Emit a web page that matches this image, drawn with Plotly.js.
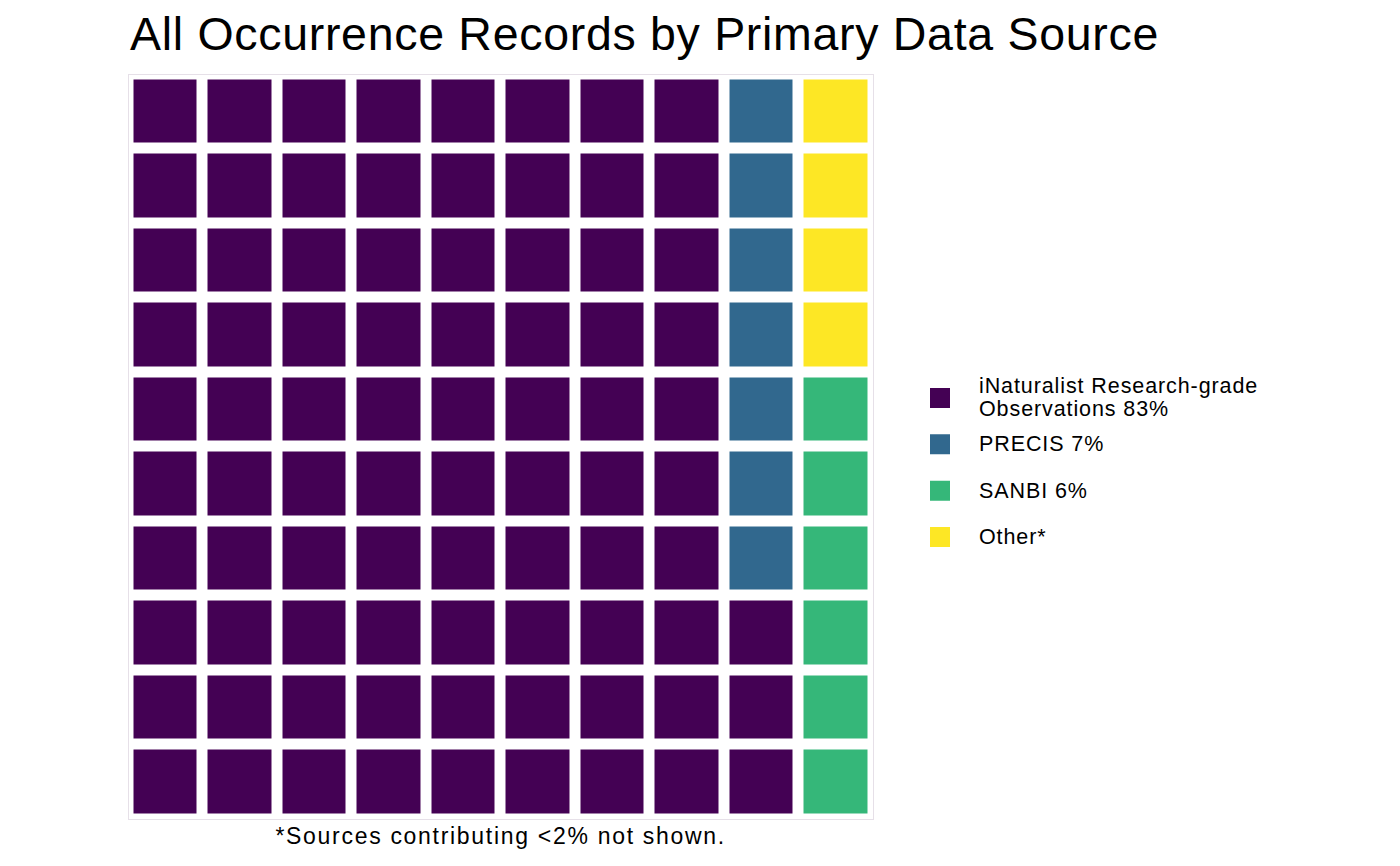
<!DOCTYPE html>
<html><head><meta charset="utf-8">
<script src="https://cdn.plot.ly/plotly-3.0.1.min.js"></script>
<style>html,body{margin:0;padding:0;background:#fff}</style>
</head><body><div id="chart" style="width:1400px;height:866px"></div>
<script>
// ---- data ----
const categories = ["iNaturalist Research-grade Observations", "PRECIS", "SANBI", "Other*"];
const legendLabels = ["iNaturalist Research-grade<br>Observations 83%", "PRECIS 7%", "SANBI 6%", "Other*"];
const tileCounts = [83, 7, 6, 4];
const colors = ["#440154", "#31688E", "#35B779", "#FDE725"];
const nRows = 10;
const nCols = 10;
const chartTitle = "All Occurrence Records by Primary Data Source";
const footnote = "*Sources contributing <2% not shown.";

// ---- build waffle grid (fill column by column, bottom to top) ----
const catIndexByTile = [];
tileCounts.forEach((c, k) => { for (let i = 0; i < c; i++) catIndexByTile.push(k); });
const xs = Array.from({length: nCols}, (_, i) => i + 1);
const ys = Array.from({length: nRows}, (_, i) => i + 1);
const z = ys.map(() => xs.map(() => null));
const hoverText = ys.map(() => xs.map(() => ""));
catIndexByTile.forEach((k, i) => {
  const col = Math.floor(i / nRows), row = i % nRows;
  z[row][col] = k;
  hoverText[row][col] = categories[k];
});
const n = colors.length;
const colorscale = [];
colors.forEach((c, k) => { colorscale.push([k / n, c]); colorscale.push([(k + 1) / n, c]); });

const W = 1400, H = 866;
const FONT = "Liberation Sans, Arial, Helvetica, sans-serif";
const LEG_SIZE = 21.5, LEG_LINE = 23;

const waffle = {
  type: "heatmap", x: xs, y: ys, z: z, text: hoverText,
  zmin: -0.5, zmax: n - 0.5, colorscale: colorscale, showscale: false,
  xgap: 11, ygap: 11, hoverinfo: "text", xaxis: "x", yaxis: "y"
};

const legendIdx = categories.map((_, k) => k);
const legendTrace = {
  type: "scatter", mode: "markers", x: legendIdx.map(() => 0), y: legendIdx,
  marker: {symbol: "square", size: 20, color: colors, line: {width: 0}},
  text: categories, hoverinfo: "text", xaxis: "x2", yaxis: "y2", showlegend: false
};

const legendAnnotations = [];
legendLabels.forEach((t, k) => {
  const lines = t.split("<br>");
  const mid = (lines.length - 1) / 2;
  lines.forEach((ln, j) => {
    legendAnnotations.push({
      text: ln, xref: "x2", yref: "y2", x: 0, y: k, xanchor: "left", yanchor: "middle",
      xshift: 37, yshift: (mid - j) * LEG_LINE, showarrow: false, align: "left",
      font: {family: FONT, size: LEG_SIZE, color: "#000"}
    });
  });
});
const footIndex = legendAnnotations.length;

// letter spacing to mimic the reference's text rendering
const st = document.createElement("style");
st.textContent =
  ".gtitle{letter-spacing:0.7px}" +
  "g.annotation text{letter-spacing:0.9px}" +
  'g.annotation[data-index="' + footIndex + '"] text{letter-spacing:1.7px}';
document.head.appendChild(st);

const layout = {
  width: W, height: H,
  margin: {l: 0, r: 0, t: 0, b: 0, pad: 0},
  paper_bgcolor: "#fff", plot_bgcolor: "#fff",
  showlegend: false,
  title: {
    text: chartTitle, font: {family: FONT, size: 46.5, color: "#000"},
    xref: "paper", x: 130 / W, xanchor: "left",
    yref: "container", y: 1 - 34 / H, yanchor: "middle"
  },
  xaxis: {
    domain: [128.5 / W, 873 / W], range: [0.5, nCols + 0.5],
    showgrid: false, zeroline: false, showticklabels: false, ticks: "",
    showline: true, mirror: true, linecolor: "#e6e0e8", linewidth: 1, fixedrange: true
  },
  yaxis: {
    domain: [(H - 819) / H, (H - 74.5) / H], range: [0.5, nRows + 0.5],
    showgrid: false, zeroline: false, showticklabels: false, ticks: "",
    showline: true, mirror: true, linecolor: "#e6e0e8", linewidth: 1, fixedrange: true
  },
  xaxis2: {
    domain: [900 / W, 1380 / W], range: [-1, 11], visible: false, fixedrange: true
  },
  yaxis2: {
    domain: [(H - 560.2) / H, (H - 374.8) / H], range: [3.5, -0.5], visible: false, fixedrange: true
  },
  annotations: [
    ...legendAnnotations,
    {
      text: footnote, xref: "paper", yref: "paper",
      x: (128.5 + 873) / 2 / W, y: (H - 835.5) / H, xanchor: "center", yanchor: "middle",
      showarrow: false, font: {family: FONT, size: 23, color: "#000"}
    }
  ]
};

Plotly.newPlot("chart", [waffle, legendTrace], layout, {displayModeBar: false});
</script>
</body></html>
